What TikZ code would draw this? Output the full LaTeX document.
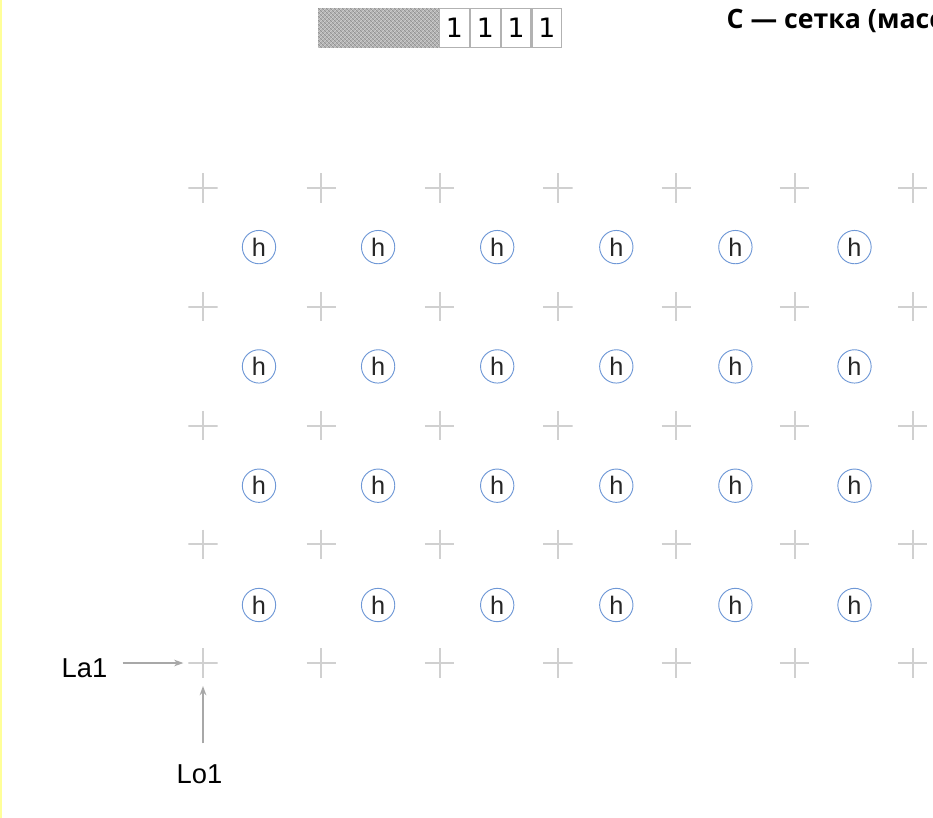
\documentclass[tikz,border=0pt]{standalone}
\usepackage{fontspec}
\setmainfont{Liberation Sans}
\newfontfamily\titlefont{Open Sans}
\newfontfamily\digitfont{DejaVu Sans}
\usetikzlibrary{arrows.meta,positioning,patterns}
\usepackage{xcolor}
\definecolor{gridgray}{HTML}{D0D0D0}
\definecolor{hblue}{HTML}{6F98D6}
\definecolor{arrgray}{HTML}{A8A8A8}
\definecolor{edgeyellow}{HTML}{FFFF99}

\begin{document}
\begin{tikzpicture}[x=0.75pt, y=-0.75pt, every node/.style={font=\fontsize{20.5}{24}\selectfont}]
\tikzset{hnode/.style={draw=hblue, circle, line width=0.7pt, minimum size=25pt, inner sep=0pt, text=black!85, font=\fontsize{19}{19}\selectfont}}
\tikzset{crossmark/.style={minimum size=22pt, inner sep=0pt, path picture={\draw[gridgray, line width=1.5pt] (path picture bounding box.west) -- (path picture bounding box.east) (path picture bounding box.north) -- (path picture bounding box.south);}}}
\tikzset{cell/.style={draw=gray!60, line width=0.8pt, minimum width=22.3pt, minimum height=29pt, inner sep=0pt, font=\digitfont\fontsize{20}{20}\selectfont}}
\tikzset{arr/.style={-{Stealth[length=7pt,width=5pt]}, arrgray, line width=1.1pt}}
\useasboundingbox (0,0) rectangle (933,818);
\clip (0,0) rectangle (933,818);
\fill[edgeyellow] (0,0) rectangle (2,818);
% crosses
\foreach \i in {0,...,6}
  \foreach \j in {0,...,4}
    \node[crossmark] (g-\i-\j) at (203+118.3*\i, 663-118.75*\j) {};
% h circles
\foreach \i in {0,...,5}
  \foreach \j in {0,...,3}
    \node[hnode] (h-\i-\j) at (259+119.1*\i, 605-119.3*\j) {h};
% bar
\node[cell, fill=gray!60, minimum width=90pt, anchor=north west] (hatch) at (318,8) {};
\fill[pattern=crosshatch dots, pattern color=black!90] (hatch.south west) rectangle (hatch.north east);
\fill[pattern=north east lines, pattern color=white!70!gray] (hatch.south west) rectangle (hatch.north east);
\node[cell, right=0pt of hatch] (c1) {1};
\node[cell, right=0pt of c1] (c2) {1};
\node[cell, right=0pt of c2] (c3) {1};
\node[cell, right=0pt of c3] (c4) {1};
\node[anchor=base west, font=\titlefont\bfseries\fontsize{20}{24}\selectfont] (title) at (722,28) {С — сетка (масс};
% labels
\node[anchor=base west] (la1) at (57,677) {La1};
\node[anchor=base west] (lo1) at (172,783) {Lo1};
\draw[arr, shorten <=8pt, shorten >=3.5pt] (la1.east |- g-0-0) -- (g-0-0);
\draw[arr, shorten <=12pt, shorten >=6pt] (g-0-0 |- lo1.north) -- (g-0-0);
\end{tikzpicture}
\end{document}
